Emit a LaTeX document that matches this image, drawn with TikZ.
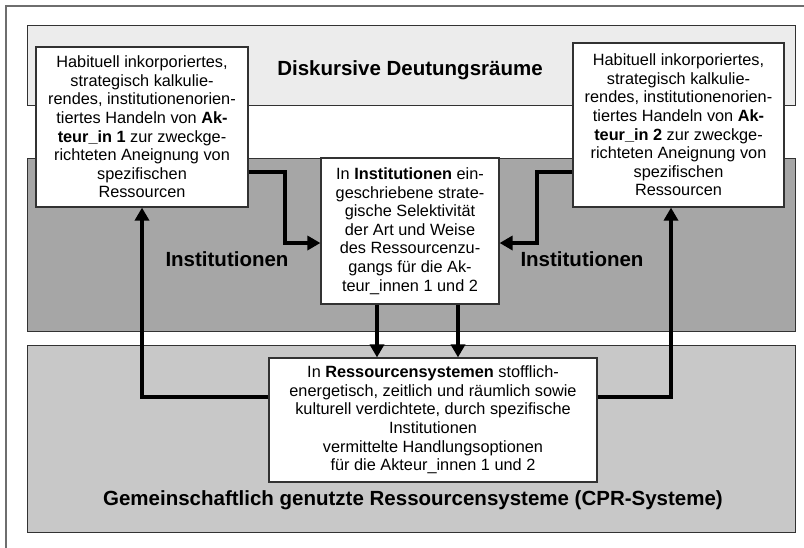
\documentclass[tikz,border=0pt]{standalone}
\usepackage{fontspec}
\setmainfont{Liberation Sans}
\usetikzlibrary{arrows.meta}
\definecolor{bandtop}{RGB}{236,236,236}
\definecolor{bandmid}{RGB}{166,166,166}
\definecolor{bandbot}{RGB}{200,200,200}
\definecolor{edge}{RGB}{50,50,50}
\definecolor{frame}{RGB}{110,110,110}
\begin{document}
\begin{tikzpicture}[x=1pt,y=-1pt,
  band/.style={draw=edge, line width=0.9pt},
  box/.style={draw=edge, fill=white, line width=1.2pt, align=center, inner sep=0pt,
    font=\fontsize{16.3}{18.6}\selectfont},
  head/.style={font=\fontsize{20.5}{24}\selectfont\bfseries, inner sep=0pt},
  conn/.style={line width=4pt, line join=miter, -{Triangle[length=13pt,width=14pt]}},
  link/.style={line width=4pt, line join=miter}
]
\useasboundingbox (0,0) rectangle (804,547);
\draw[frame, line width=1.2pt] (6,6) rectangle (900,620);
% bands
\draw[band, fill=bandtop] (27,25) rectangle (795,105);
\draw[band, fill=bandmid] (27,158) rectangle (795,331);
\draw[band, fill=bandbot] (27,345) rectangle (795,532);
% headings
\node[head] (hD) at (410,70) {Diskursive Deutungsräume};
\node[head] (hI1) at (227,259) {Institutionen};
\node[head] (hI2) at (582,259) {Institutionen};
\node[head] (hG) at (413,500) {Gemeinschaftlich genutzte Ressourcensysteme (CPR-Systeme)};
% boxes
\node[box, minimum width=212pt, minimum height=160pt] (L) at (142,127) {Habituell inkorporiertes,\\ strategisch kalkulie-\\ rendes, institutionenorien-\\ tiertes Handeln von \textbf{Ak-}\\ \textbf{teur\_in 1} zur zweckge-\\ richteten Aneignung von\\ spezifischen\\ Ressourcen};
\node[box, minimum width=211pt, minimum height=164pt] (R) at (678.5,125) {Habituell inkorporiertes,\\ strategisch kalkulie-\\ rendes, institutionenorien-\\ tiertes Handeln von \textbf{Ak-}\\ \textbf{teur\_in 2} zur zweckge-\\ richteten Aneignung von\\ spezifischen\\ Ressourcen};
\node[box, minimum width=178pt, minimum height=146pt] (C) at (410,231) {In \textbf{Institutionen} ein-\\ geschriebene strate-\\ gische Selektivität\\ der Art und Weise\\ des Ressourcenzu-\\ gangs für die Ak-\\ teur\_innen 1 und 2};
\node[box, minimum width=328pt, minimum height=124pt] (B) at (433,420) {In \textbf{Ressourcensystemen} stofflich-\\ energetisch, zeitlich und räumlich sowie\\ kulturell verdichtete, durch spezifische\\ Institutionen\\ vermittelte Handlungsoptionen\\ für die Akteur\_innen 1 und 2};
% connector helper coordinates
\coordinate (ya) at (0,172);
\coordinate (k1) at (285,243);
\coordinate (k2) at (537,243);
\coordinate (d1) at (377,0);
\coordinate (d2) at (458,0);
\coordinate (k3) at (142,397);
\coordinate (k4) at (671,397);
% connectors
\draw[conn] (L.east |- ya) -| (k1) -- (C.west |- k1);
\draw[conn] (R.west |- ya) -| (k2) -- (C.east |- k2);
\draw[conn] (C.south -| d1) -- (B.north -| d1);
\draw[conn] (C.south -| d2) -- (B.north -| d2);
\draw[conn] (B.west |- k3) -| (L.south);
\draw[conn] (B.east |- k4) -| (R.south -| k4);
\end{tikzpicture}
\end{document}
